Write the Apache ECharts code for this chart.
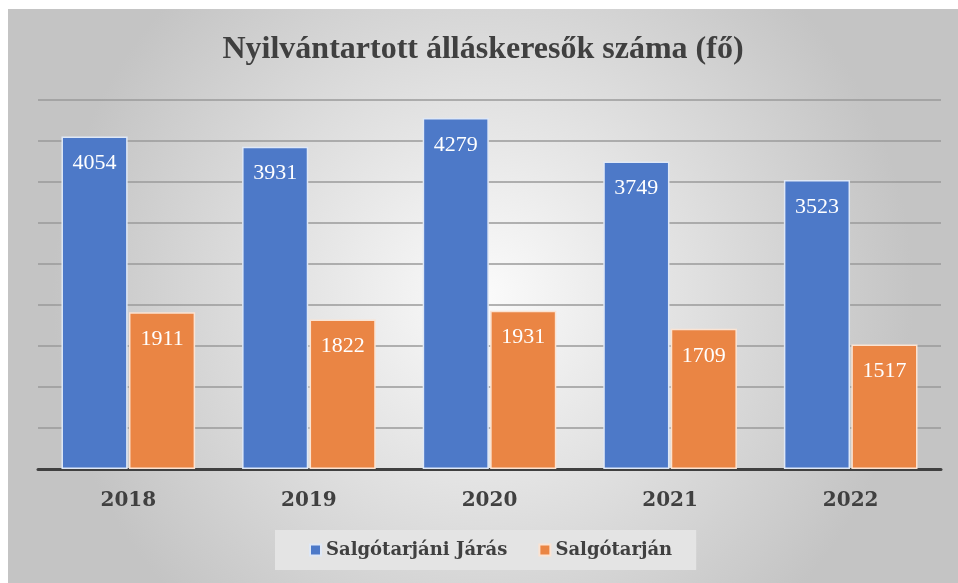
<!DOCTYPE html>
<html>
<head>
<meta charset="utf-8">
<script src="https://cdn.jsdelivr.net/npm/echarts@6/dist/echarts.min.js"></script>
<style>
  html, body { margin: 0; padding: 0; background: #fff; }
  #chart { position: absolute; left: 8px; top: 9px; width: 950px; height: 574px; }
</style>
</head>
<body>
<div id="chart"></div>
<script>
// évek és adatok
var years = ['2018', '2019', '2020', '2021', '2022'];
var jaras = [4054, 3931, 4279, 3749, 3523];
var varos = [1911, 1822, 1931, 1709, 1517];
var seriesNames = ['Salgótarjáni Járás', 'Salgótarján'];

var chart = echarts.init(document.getElementById('chart'));
var serif = '"Liberation Serif", "Times New Roman", serif';
var wideSerif = '"DejaVu Serif", Cambria, serif';

var labelStyle = {
    show: true,
    position: 'insideTop',
    distance: 16,
    color: '#fff',
    fontFamily: serif,
    fontSize: 22
};

var option = {
    backgroundColor: {
        type: 'radial', x: 0.5, y: 0.5, r: 0.75,
        colorStops: [
            { offset: 0, color: '#fbfbfb' },
            { offset: 1, color: '#c4c4c4' }
        ]
    },
    title: {
        text: 'Nyilvántartott álláskeresők száma (fő)',
        left: 'center',
        top: 20,
        textStyle: {
            fontFamily: serif,
            fontWeight: 'bold',
            fontSize: 32,
            color: '#404040'
        }
    },
    legend: {
        data: seriesNames,
        bottom: 13,
        left: 267,
        itemWidth: 11,
        itemHeight: 11,
        itemGap: 31,
        padding: [11, 24, 11, 34],
        backgroundColor: '#e4e4e4',
        icon: 'rect',
        textStyle: {
            fontFamily: wideSerif,
            fontWeight: 'bold',
            fontSize: 18,
            color: '#404040'
        }
    },
    grid: {
        left: 30,
        right: 17,
        top: 91,
        bottom: 114
    },
    xAxis: {
        type: 'category',
        data: years,
        axisTick: { show: false },
        axisLine: { lineStyle: { color: '#404040', width: 3 } },
        axisLabel: {
            margin: 22,
            fontFamily: wideSerif,
            fontWeight: 'bold',
            fontSize: 20,
            color: '#404040'
        }
    },
    yAxis: {
        type: 'value',
        min: 0,
        max: 4500,
        interval: 500,
        axisLabel: { show: false },
        axisLine: { show: false },
        axisTick: { show: false },
        splitLine: { lineStyle: { color: '#9a9a9a', width: 1.5 } }
    },
    series: [
        {
            name: seriesNames[0],
            type: 'bar',
            data: jaras,
            barGap: '2%',
            barCategoryGap: '26%',
            itemStyle: { color: '#4d79c8', borderColor: '#dfe8f6', borderWidth: 1.5 },
            label: labelStyle
        },
        {
            name: seriesNames[1],
            type: 'bar',
            data: varos,
            itemStyle: { color: '#ea8544', borderColor: '#fbe3d2', borderWidth: 1.5 },
            label: labelStyle
        }
    ]
};

chart.setOption(option);
</script>
</body>
</html>
